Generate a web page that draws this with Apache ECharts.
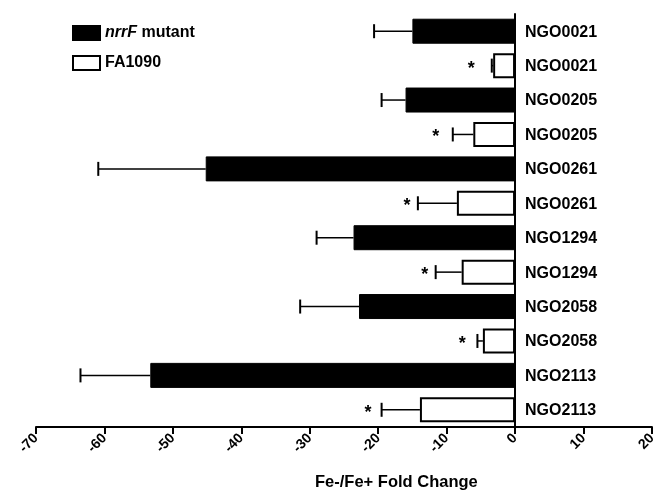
<!DOCTYPE html>
<html><head><meta charset="utf-8">
<script src="https://cdn.jsdelivr.net/npm/echarts@6/dist/echarts.min.js"></script>
<style>html,body{margin:0;padding:0;background:#fff}#c{width:659px;height:490px}</style>
</head><body><div id="c"></div>
<script>
var rowLabels = ['NGO0021','NGO0021','NGO0205','NGO0205','NGO0261','NGO0261','NGO1294','NGO1294','NGO2058','NGO2058','NGO2113','NGO2113'];
var seriesNames = ['nrrF mutant','FA1090'];
// fold change (bar) values per row; odd rows mutant, even rows FA1090
var mutantValues = [-15.0, null, -16.0, null, -45.2, null, -23.6, null, -22.8, null, -53.3, null];
var wildValues   = [null, -3.2, null, -6.1, null, -8.5, null, -7.8, null, -4.7, null, -13.9];
// error bar end (mean - SD)
var errorEnds = [-20.6, -3.4, -19.5, -9.1, -60.9, -14.2, -29.0, -11.6, -31.4, -5.5, -63.5, -19.5];
// asterisk positions (significance marks) for FA1090 rows
var asteriskRows = [1, 3, 5, 7, 9, 11];
var asteriskX = [-6.4, -11.6, -15.8, -13.2, -7.7, -21.5];
var xTicks = {min: -70, max: 20, interval: 10};

var FONT = '"Liberation Sans", Arial, sans-serif';
var cats = rowLabels.map(function(_, i){ return String(i); });
var barVals = rowLabels.map(function(_, i){ return mutantValues[i] != null ? mutantValues[i] : wildValues[i]; });
var errData = errorEnds.map(function(e, i){ return [barVals[i], e, i]; });
var starData = asteriskRows.map(function(r, k){ return [asteriskX[k], r]; });
var labelData = rowLabels.map(function(l, i){ return [0, i, l]; });

var chart = echarts.init(document.getElementById('c'));
chart.setOption({
  animation: false,
  grid: {left: 36, right: 4, top: 14, bottom: 63},
  title: {text: 'Fe-/Fe+ Fold Change', left: 310, top: 469,
    textStyle: {fontFamily: FONT, fontWeight: 'bold', fontSize: 16.5, color: '#000'}},
  legend: {
    orient: 'vertical', left: 67, top: 20, itemWidth: 27, itemHeight: 14, itemGap: 14,
    data: [{name: seriesNames[0], icon: 'rect'}, {name: seriesNames[1], icon: 'rect'}],
    formatter: function(n){ return n === 'nrrF mutant' ? '{i|nrrF} mutant' : n; },
    textStyle: {fontFamily: FONT, fontWeight: 'bold', fontSize: 16, color: '#000',
      rich: {i: {fontFamily: FONT, fontStyle: 'italic', fontWeight: 'bold', fontSize: 16, color: '#000'}}}
  },
  xAxis: {
    type: 'value', min: xTicks.min, max: xTicks.max, interval: xTicks.interval,
    splitLine: {show: false},
    axisLine: {show: true, onZero: false, lineStyle: {color: '#000', width: 2}},
    axisTick: {show: true, length: 7, lineStyle: {color: '#000', width: 2}},
    axisLabel: {rotate: 45, margin: 9, fontFamily: FONT, fontWeight: 'bold', fontSize: 14, color: '#000'}
  },
  yAxis: {
    type: 'category', inverse: true, data: cats,
    axisLine: {show: true, onZero: true, lineStyle: {color: '#000', width: 2}},
    axisTick: {show: true, alignWithLabel: true, length: 5, lineStyle: {color: '#000', width: 1.5}},
    axisLabel: {show: false},
    splitLine: {show: false}
  },
  series: [
    {name: seriesNames[0], type: 'bar', data: mutantValues, barWidth: 25, barGap: '-100%',
      itemStyle: {color: '#000', borderColor: '#000', borderWidth: 1}},
    {name: seriesNames[1], type: 'bar', data: wildValues, barWidth: 25, barGap: '-100%',
      itemStyle: {color: '#fff', borderColor: '#000', borderWidth: 2}},
    {type: 'custom', data: errData, z: 5,
      renderItem: function(params, api){
        var a = api.coord([api.value(0), api.value(2)]);
        var b = api.coord([api.value(1), api.value(2)]);
        return {type: 'group', children: [
          {type: 'line', shape: {x1: a[0], y1: a[1], x2: b[0], y2: b[1]}, style: {stroke: '#000', lineWidth: 1.5}},
          {type: 'line', shape: {x1: b[0], y1: b[1] - 7, x2: b[0], y2: b[1] + 7}, style: {stroke: '#000', lineWidth: 2}}
        ]};
      }},
    {type: 'custom', data: starData, z: 5,
      renderItem: function(params, api){
        var p = api.coord([api.value(0), api.value(1)]);
        return {type: 'text', x: p[0], y: p[1] + 3, style: {text: '*', fontFamily: FONT, fontWeight: 'bold', fontSize: 18,
          fill: '#000', align: 'center', verticalAlign: 'middle'}};
      }},
    {type: 'custom', data: labelData, z: 6, clip: false,
      renderItem: function(params, api){
        var p = api.coord([api.value(0), api.value(1)]);
        return {type: 'text', x: p[0] + 10, y: p[1] + 1, style: {text: rowLabels[params.dataIndex], fontFamily: FONT, fontWeight: 'bold', fontSize: 16,
          fill: '#000', align: 'left', verticalAlign: 'middle'}};
      }}
  ]
});
</script></body></html>
